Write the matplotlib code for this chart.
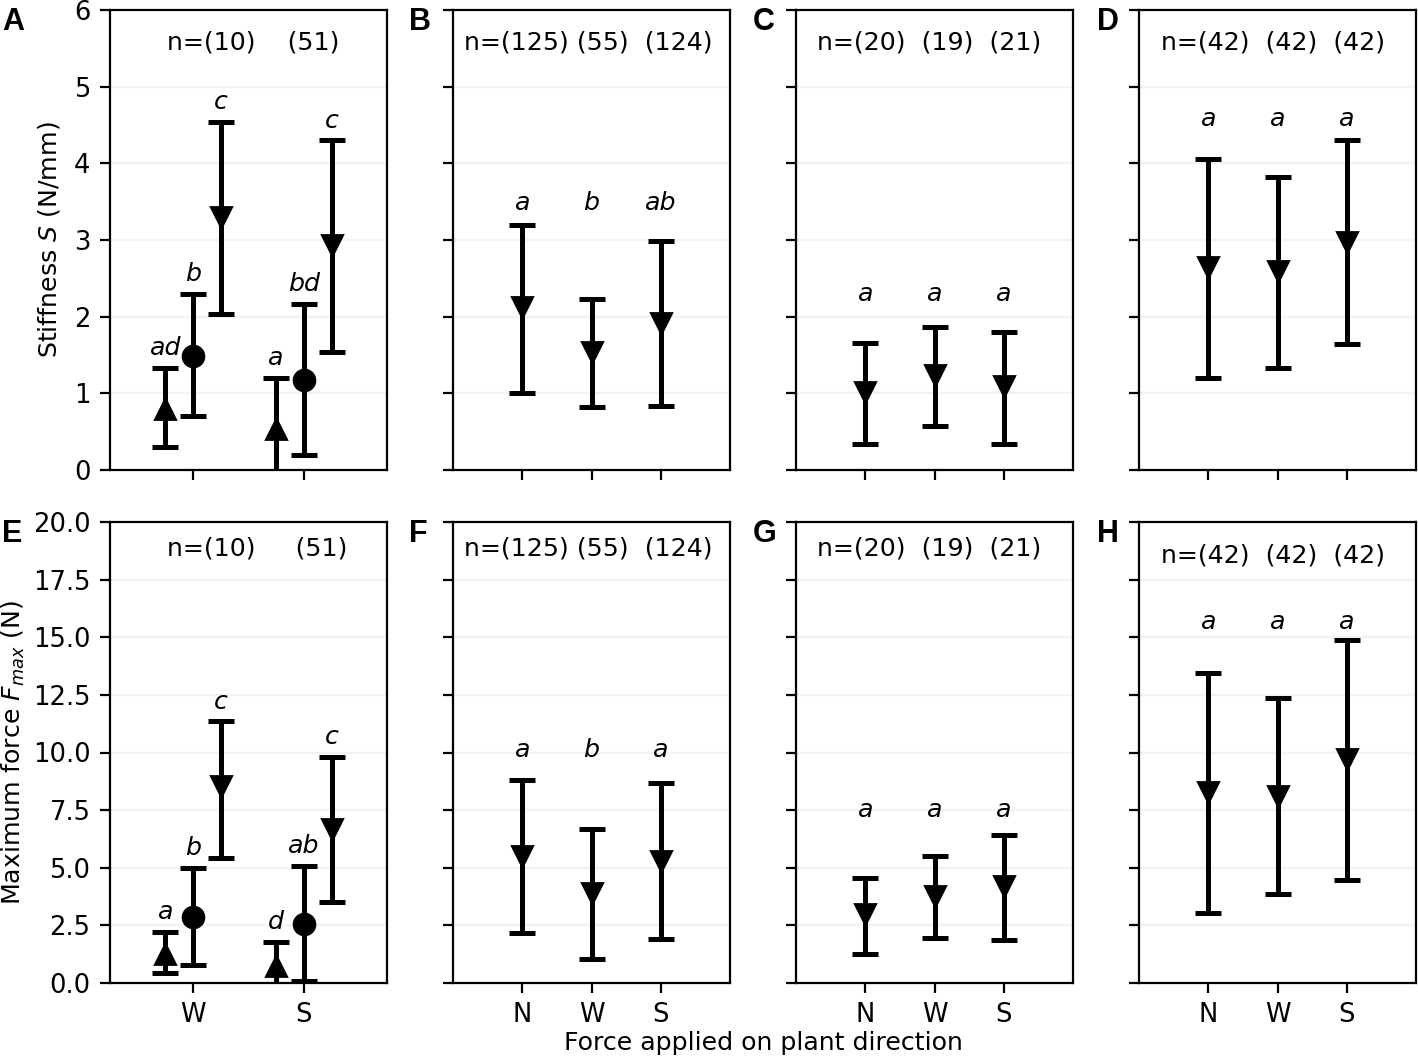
import matplotlib
matplotlib.use("Agg")
import matplotlib.pyplot as plt
import numpy as np

plt.rcParams['font.family'] = ['DejaVu Sans']

# ---------------- data ----------------
# Panels A / E : two directions (W, S), three sub-series each
ae_categories = ["W", "S"]
ae_markers = ["^", "o", "v"]
ae_offsets = [-0.25, 0.0, 0.25]

# stiffness (A): [series][category]
A_mean = [[0.80, 0.54], [1.49, 1.18], [3.30, 2.93]]
A_low = [[0.30, -0.15], [0.70, 0.20], [2.03, 1.54]]
A_high = [[1.33, 1.20], [2.30, 2.17], [4.54, 4.30]]
A_letters = [["ad", "a"], ["b", "bd"], ["c", "c"]]
A_n = "n=(10)    (51)"

# max force (E)
E_mean = [[1.27, 0.73], [2.85, 2.56], [8.56, 6.70]]
E_low = [[0.45, -0.30], [0.76, 0.08], [5.41, 3.50]]
E_high = [[2.23, 1.80], [4.99, 5.07], [11.35, 9.80]]
E_letters = [["a", "d"], ["b", "ab"], ["c", "c"]]
E_n = "n=(10)     (51)"

# Panels B-D / F-H : three directions
nws_categories = ["N", "W", "S"]

B_mean = [2.12, 1.54, 1.92]
B_low = [1.01, 0.82, 0.83]
B_high = [3.19, 2.23, 2.99]
B_letters = ["a", "b", "ab"]
B_letter_y = 3.39
B_n = "n=(125) (55)  (124)"

C_mean = [1.02, 1.24, 1.09]
C_low = [0.34, 0.57, 0.34]
C_high = [1.66, 1.87, 1.80]
C_letters = ["a", "a", "a"]
C_letter_y = 2.20
C_n = "n=(20)  (19)  (21)"

D_mean = [2.65, 2.59, 2.98]
D_low = [1.20, 1.33, 1.65]
D_high = [4.06, 3.82, 4.30]
D_letters = ["a", "a", "a"]
D_letter_y = 4.49
D_n = "n=(42)  (42)  (42)"

F_mean = [5.53, 3.91, 5.30]
F_low = [2.17, 1.05, 1.91]
F_high = [8.82, 6.70, 8.67]
F_letters = ["a", "b", "a"]
F_letter_y = 9.80
F_n = "n=(125) (55)  (124)"

G_mean = [2.98, 3.78, 4.22]
G_low = [1.27, 1.95, 1.86]
G_high = [4.56, 5.52, 6.43]
G_letters = ["a", "a", "a"]
G_letter_y = 7.19
G_n = "n=(20)  (19)  (21)"

H_mean = [8.28, 8.12, 9.72]
H_low = [3.02, 3.84, 4.48]
H_high = [13.46, 12.36, 14.90]
H_letters = ["a", "a", "a"]
H_letter_y = 15.35
H_n = "n=(42)  (42)  (42)"

top_yticks = [0, 1, 2, 3, 4, 5, 6]
bot_yticks = [0.0, 2.5, 5.0, 7.5, 10.0, 12.5, 15.0, 17.5, 20.0]

# ---------------- figure ----------------
W, H = 1418, 1059
dpi = 200
fig = plt.figure(figsize=(W / dpi, H / dpi), dpi=dpi)

ax_w = 277 / W
lefts = [110 / W, 453 / W, 796 / W, 1139 / W]
top_row = (1 - 470 / H, 460 / H)
bot_row = (1 - 983 / H, 461 / H)

axes = [[None] * 4, [None] * 4]
for r, (b, h) in enumerate([top_row, bot_row]):
    for c in range(4):
        kw = {}
        if c > 0:
            kw['sharey'] = axes[r][0]
        if r == 1:
            kw['sharex'] = axes[0][c]
        axes[r][c] = fig.add_axes([lefts[c], b, ax_w, h], **kw)

eb_kw = dict(color='black', ecolor='black', ms=7.5, elinewidth=1.8,
             capsize=4.6, capthick=1.8, linestyle='none', zorder=3)
FS_TICK = 9.3
FS_TXT = 9.1
FS_LAB = 9.1


def style(ax, yticks, ylim):
    ax.set_ylim(*ylim)
    ax.set_yticks(yticks)
    ax.yaxis.grid(True, color='#f2f2f2', lw=0.8)
    ax.set_axisbelow(True)
    ax.tick_params(labelsize=FS_TICK, width=0.8)
    for s in ax.spines.values():
        s.set_linewidth(0.8)


def put_n(ax, ntext, nx, ny):
    ax.text(nx, ny, ntext, transform=ax.transAxes, ha='left', va='center',
            fontsize=FS_TXT)


def plot_ae(ax, mean, low, high, letters):
    for i in range(3):
        x = np.arange(len(ae_categories)) + ae_offsets[i]
        m = np.array(mean[i]); lo = np.array(low[i]); hi = np.array(high[i])
        ax.errorbar(x, m, yerr=[m - lo, hi - m], fmt=ae_markers[i], **eb_kw)
        for j in range(len(ae_categories)):
            ax.annotate(letters[i][j], (x[j], hi[j]), xytext=(0, 4.6),
                        textcoords='offset points', ha='center', va='baseline',
                        fontsize=FS_TXT, style='italic')
    ax.set_xlim(-0.75, 1.75)
    ax.set_xticks(np.arange(len(ae_categories)))
    ax.set_xticklabels(ae_categories)


def plot_nws(ax, mean, low, high, letters, letter_y):
    x = np.arange(len(nws_categories))
    m = np.array(mean); lo = np.array(low); hi = np.array(high)
    ax.errorbar(x, m, yerr=[m - lo, hi - m], fmt='v', **eb_kw)
    for j in range(len(x)):
        ax.text(x[j], letter_y, letters[j], ha='center', va='baseline',
                fontsize=FS_TXT, style='italic')
    ax.set_xlim(-1, 3)
    ax.set_xticks(x)
    ax.set_xticklabels(nws_categories)


for c in range(4):
    style(axes[0][c], top_yticks, (0, 6))
    style(axes[1][c], bot_yticks, (0, 20))

plot_ae(axes[0][0], A_mean, A_low, A_high, A_letters)
plot_nws(axes[0][1], B_mean, B_low, B_high, B_letters, B_letter_y)
plot_nws(axes[0][2], C_mean, C_low, C_high, C_letters, C_letter_y)
plot_nws(axes[0][3], D_mean, D_low, D_high, D_letters, D_letter_y)
plot_ae(axes[1][0], E_mean, E_low, E_high, E_letters)
plot_nws(axes[1][1], F_mean, F_low, F_high, F_letters, F_letter_y)
plot_nws(axes[1][2], G_mean, G_low, G_high, G_letters, G_letter_y)
plot_nws(axes[1][3], H_mean, H_low, H_high, H_letters, H_letter_y)

put_n(axes[0][0], A_n, 0.204, 0.930)
put_n(axes[0][1], B_n, 0.041, 0.930)
put_n(axes[0][2], C_n, 0.076, 0.930)
put_n(axes[0][3], D_n, 0.080, 0.930)
put_n(axes[1][0], E_n, 0.204, 0.943)
put_n(axes[1][1], F_n, 0.041, 0.943)
put_n(axes[1][2], G_n, 0.076, 0.943)
put_n(axes[1][3], H_n, 0.080, 0.928)

for c in range(4):
    axes[0][c].tick_params(labelbottom=False)
    if c > 0:
        axes[0][c].tick_params(labelleft=False)
        axes[1][c].tick_params(labelleft=False)

axes[0][0].yaxis.set_major_formatter(matplotlib.ticker.FormatStrFormatter('%d'))
axes[1][0].yaxis.set_major_formatter(matplotlib.ticker.FormatStrFormatter('%.1f'))
axes[0][0].set_ylabel("Stiffness $S$ (N/mm)", fontsize=FS_LAB)
axes[1][0].set_ylabel("Maximum force $F_{max}$ (N)", fontsize=FS_LAB)
axes[0][0].yaxis.set_label_coords(-0.173, 0.5)
axes[1][0].yaxis.set_label_coords(-0.300, 0.5)

fig.text(763 / W, 1 - 1043 / H, "Force applied on plant direction",
         ha='center', va='center', fontsize=FS_LAB)

panel_letters = [["A", "B", "C", "D"], ["E", "F", "G", "H"]]
letter_x = [2, 409, 753, 1097]
letter_ytop = [7, 519]
for r in range(2):
    for c in range(4):
        fig.text(letter_x[c] / W, 1 - letter_ytop[r] / H, panel_letters[r][c],
                 ha='left', va='top', fontsize=11, fontweight='bold',
                 family=['Liberation Sans', 'DejaVu Sans'])

fig.savefig("out.png", dpi=dpi)
